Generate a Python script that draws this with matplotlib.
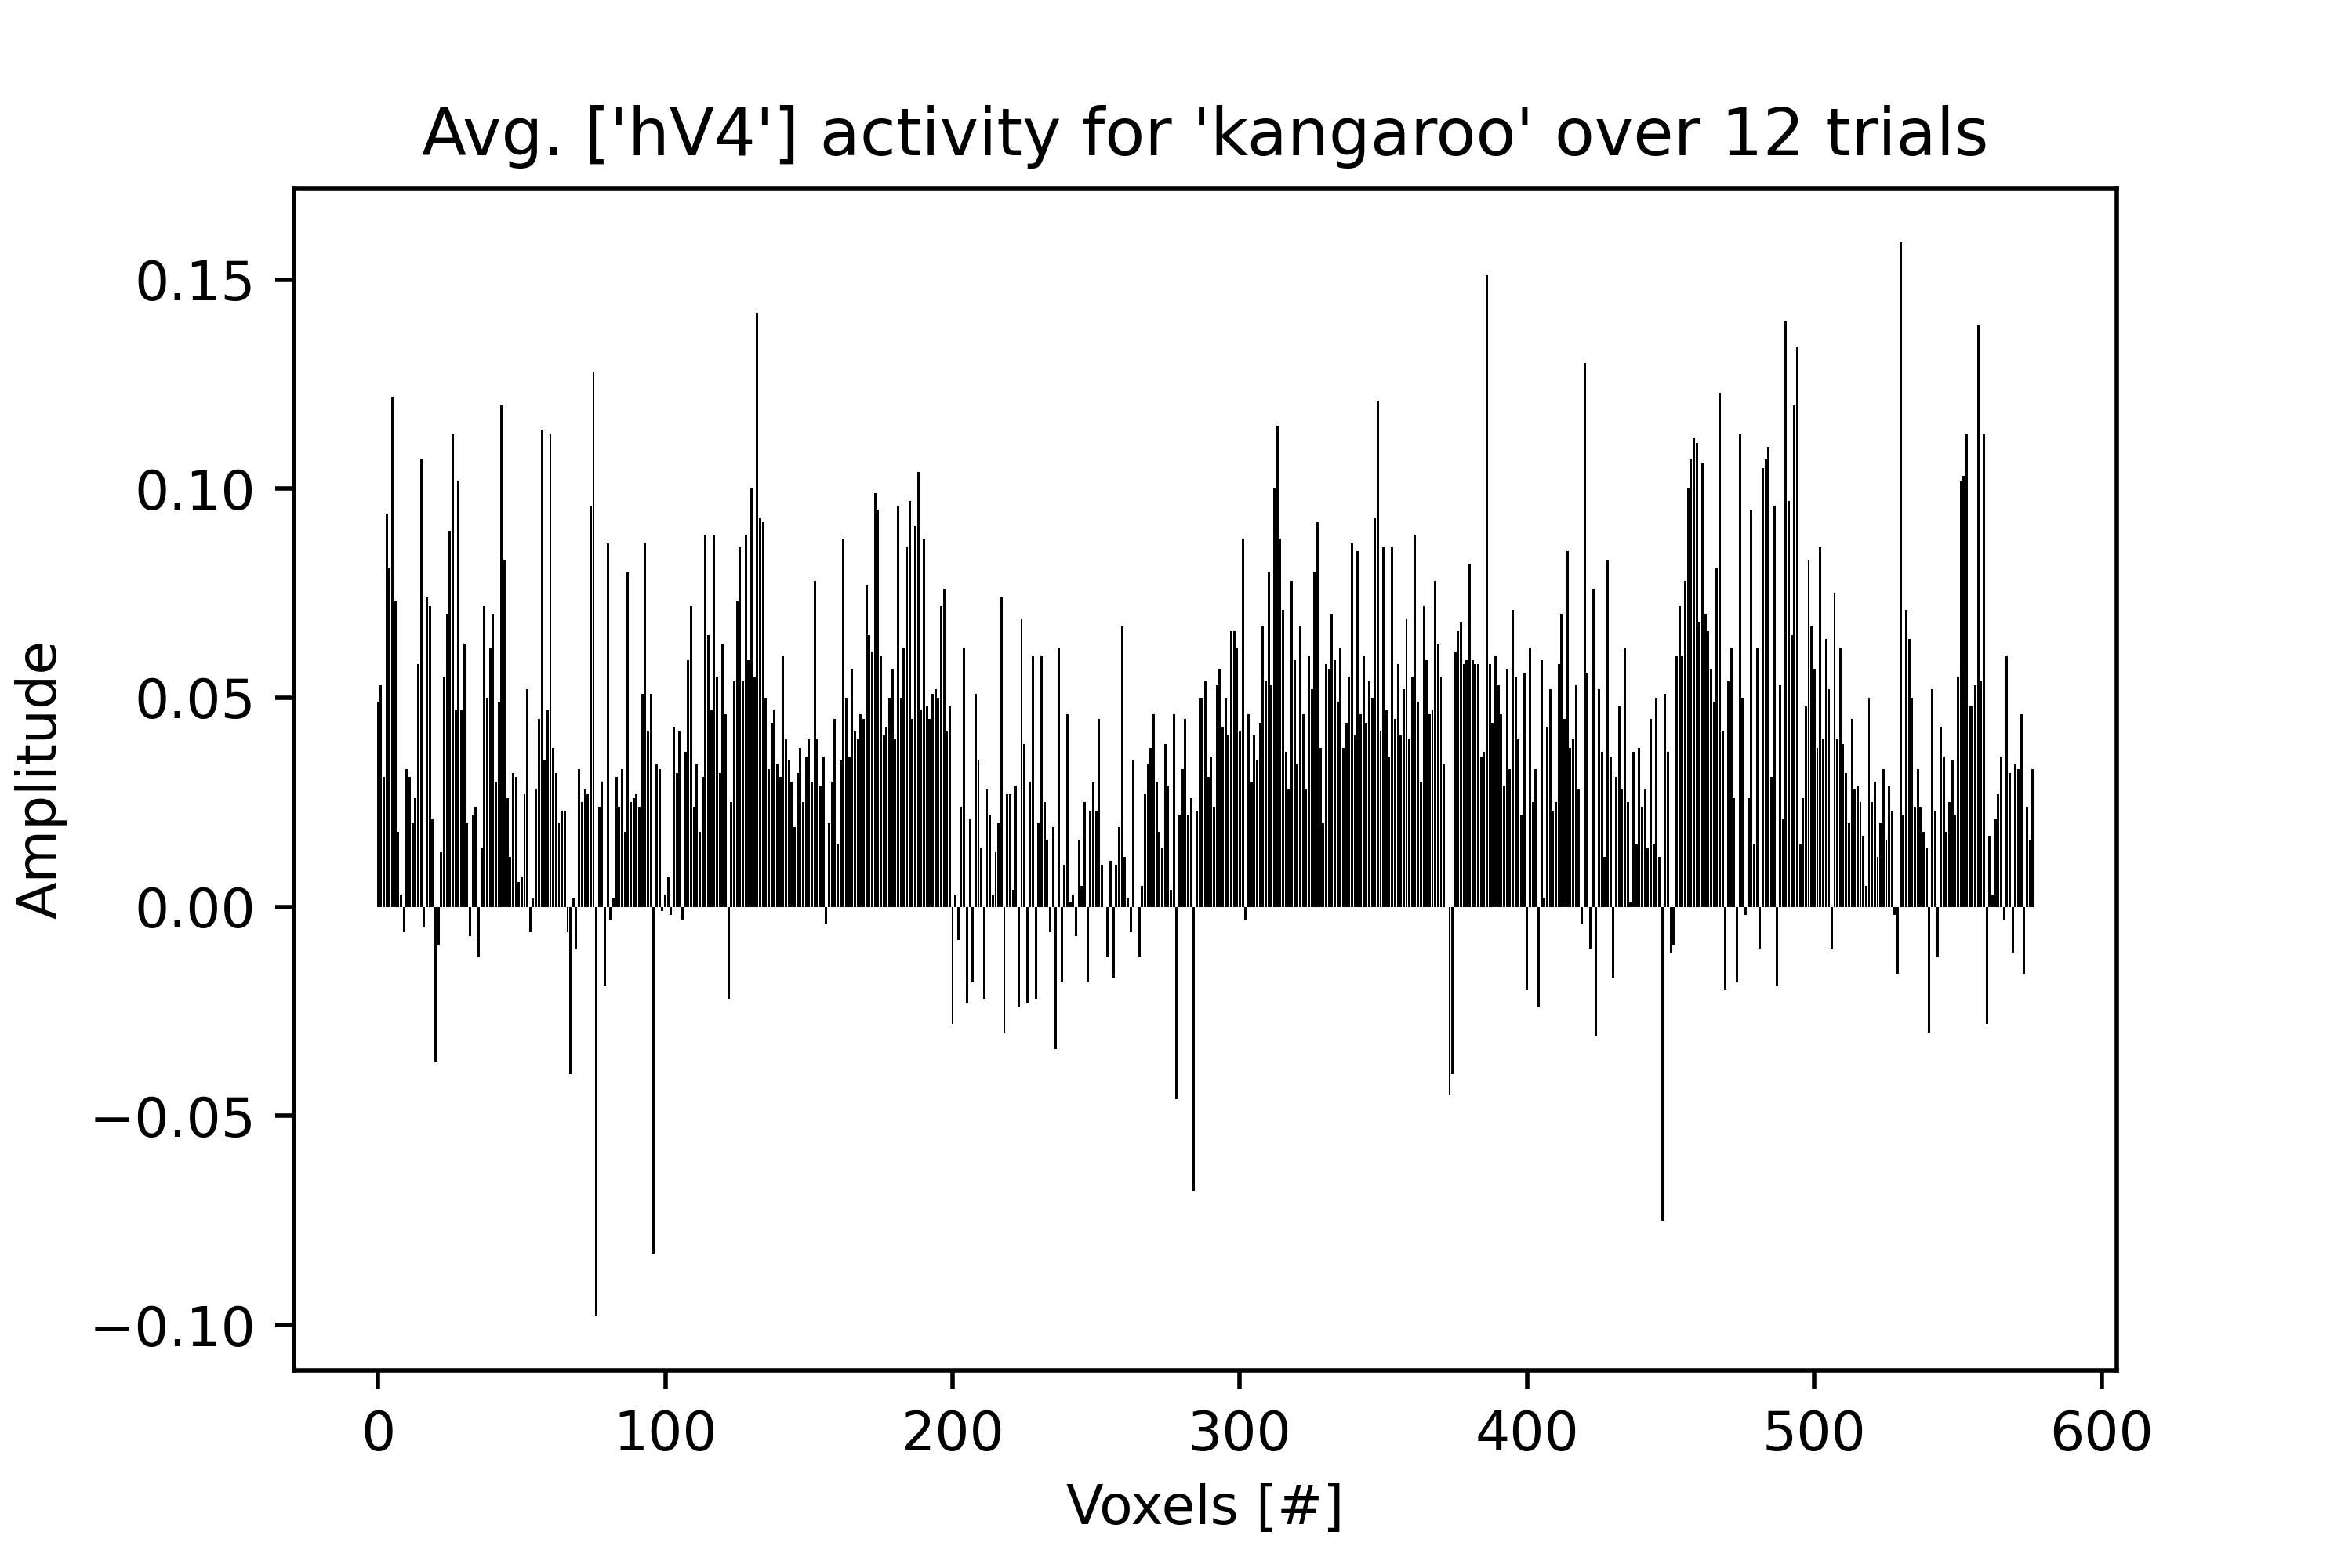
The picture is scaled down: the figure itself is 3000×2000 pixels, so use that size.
import numpy as np
import matplotlib
matplotlib.use("Agg")
import matplotlib.pyplot as plt

# voxel amplitudes in blocks of 100
amp_000 = [0.049, 0.053, 0.031, 0.094, 0.081, 0.122, 0.073, 0.018, 0.003, -0.006,
           0.033, 0.031, 0.020, 0.026, 0.058, 0.107, -0.005, 0.074, 0.072, 0.021,
           -0.037, -0.009, 0.013, 0.055, 0.070, 0.090, 0.113, 0.047, 0.102, 0.047,
           0.063, 0.020, -0.007, 0.022, 0.024, -0.012, 0.014, 0.072, 0.050, 0.062,
           0.070, 0.030, 0.049, 0.120, 0.083, 0.026, 0.012, 0.032, 0.031, 0.006,
           0.007, 0.027, 0.052, -0.006, 0.002, 0.028, 0.045, 0.114, 0.035, 0.047,
           0.113, 0.038, 0.032, 0.020, 0.023, 0.023, -0.006, -0.040, 0.002, -0.010,
           0.033, 0.025, 0.028, 0.027, 0.096, 0.128, -0.098, 0.024, 0.030, -0.019,
           0.087, -0.003, 0.002, 0.031, 0.024, 0.033, 0.018, 0.080, 0.025, 0.026,
           0.027, 0.024, 0.051, 0.087, 0.042, 0.051, -0.083, 0.034, 0.033, -0.001]

amp_100 = [0.003, 0.007, -0.002, 0.043, 0.032, 0.042, -0.003, 0.037, 0.059, 0.072,
           0.024, 0.034, 0.018, 0.031, 0.089, 0.065, 0.047, 0.089, 0.055, 0.032,
           0.063, 0.046, -0.022, 0.025, 0.054, 0.073, 0.086, 0.054, 0.089, 0.059,
           0.100, 0.055, 0.142, 0.093, 0.092, 0.050, 0.033, 0.044, 0.047, 0.034,
           0.031, 0.060, 0.040, 0.035, 0.030, 0.019, 0.032, 0.038, 0.025, 0.036,
           0.040, 0.030, 0.078, 0.040, 0.029, 0.036, -0.004, 0.020, 0.030, 0.045,
           0.015, 0.035, 0.088, 0.050, 0.036, 0.057, 0.042, 0.040, 0.046, 0.045,
           0.077, 0.065, 0.061, 0.099, 0.095, 0.060, 0.041, 0.043, 0.050, 0.057,
           0.040, 0.096, 0.050, 0.062, 0.086, 0.097, 0.045, 0.091, 0.104, 0.047,
           0.088, 0.048, 0.045, 0.051, 0.052, 0.050, 0.072, 0.076, 0.042, 0.048]

amp_200 = [-0.028, 0.003, -0.008, 0.024, 0.062, -0.023, 0.021, -0.018, 0.051, 0.035,
           0.014, -0.022, 0.028, 0.022, 0.003, 0.013, 0.020, 0.074, -0.030, 0.027,
           0.027, 0.004, 0.029, -0.024, 0.069, 0.039, -0.023, 0.030, 0.060, -0.022,
           0.020, 0.060, 0.025, 0.016, -0.006, 0.019, -0.034, 0.062, -0.018, 0.010,
           0.046, 0.001, 0.003, -0.007, 0.016, 0.005, 0.025, -0.018, 0.023, 0.030,
           0.023, 0.045, 0.010, 0.000, -0.012, 0.011, -0.017, 0.010, 0.019, 0.067,
           0.012, 0.002, -0.006, 0.035, 0.000, -0.012, 0.005, 0.027, 0.034, 0.038,
           0.046, 0.030, 0.018, 0.014, 0.039, 0.029, 0.004, 0.046, -0.046, 0.022,
           0.033, 0.045, 0.022, 0.026, -0.068, 0.023, 0.050, 0.050, 0.054, 0.031,
           0.036, 0.024, 0.053, 0.057, 0.043, 0.050, 0.041, 0.066, 0.066, 0.062]

amp_300 = [0.042, 0.088, -0.003, 0.046, 0.030, 0.041, 0.035, 0.044, 0.067, 0.054,
           0.080, 0.053, 0.100, 0.115, 0.088, 0.071, 0.037, 0.028, 0.078, 0.059,
           0.034, 0.067, 0.046, 0.028, 0.060, 0.052, 0.080, 0.092, 0.038, 0.020,
           0.058, 0.057, 0.070, 0.059, 0.049, 0.062, 0.038, 0.044, 0.055, 0.087,
           0.041, 0.085, 0.046, 0.060, 0.044, 0.054, 0.050, 0.093, 0.121, 0.042,
           0.086, 0.047, 0.036, 0.086, 0.045, 0.058, 0.041, 0.052, 0.069, 0.040,
           0.055, 0.089, 0.049, 0.030, 0.072, 0.059, 0.046, 0.047, 0.078, 0.063,
           0.055, 0.034, 0.000, -0.045, -0.040, 0.061, 0.066, 0.068, 0.058, 0.059,
           0.082, 0.059, 0.058, 0.058, 0.036, 0.037, 0.151, 0.058, 0.044, 0.060,
           0.053, 0.046, 0.029, 0.057, 0.033, 0.071, 0.055, 0.040, 0.022, 0.056]

amp_400 = [-0.020, 0.062, 0.025, 0.033, -0.024, 0.059, 0.002, 0.043, 0.052, 0.023,
           0.025, 0.058, 0.070, 0.045, 0.085, 0.038, 0.040, 0.053, 0.028, -0.004,
           0.130, 0.056, -0.010, 0.076, -0.031, 0.052, 0.037, 0.012, 0.083, 0.036,
           -0.017, 0.031, 0.048, 0.028, 0.062, 0.025, 0.001, 0.037, 0.015, 0.038,
           0.024, 0.028, 0.014, 0.045, 0.015, 0.050, 0.012, -0.075, 0.051, 0.037,
           -0.011, -0.009, 0.060, 0.072, 0.060, 0.078, 0.100, 0.107, 0.112, 0.111,
           0.068, 0.106, 0.070, 0.066, 0.057, 0.049, 0.081, 0.123, 0.042, -0.020,
           0.054, 0.062, 0.026, -0.018, 0.113, 0.050, -0.002, 0.026, 0.095, 0.015,
           0.062, -0.010, 0.105, 0.107, 0.110, 0.031, 0.096, -0.019, 0.053, 0.021,
           0.140, 0.097, 0.065, 0.120, 0.134, 0.015, 0.026, 0.048, 0.083, 0.067]

amp_500 = [0.057, 0.038, 0.086, 0.040, 0.064, 0.052, -0.010, 0.075, 0.040, 0.062,
           0.039, 0.032, 0.020, 0.045, 0.028, 0.029, 0.025, 0.017, 0.005, 0.050,
           0.025, 0.030, 0.012, 0.020, 0.033, 0.016, 0.029, 0.023, -0.002, -0.016,
           0.159, 0.022, 0.071, 0.064, 0.050, 0.024, 0.033, 0.024, 0.018, 0.014,
           -0.030, 0.052, 0.023, -0.012, 0.043, 0.036, 0.018, 0.025, 0.035, 0.022,
           0.055, 0.102, 0.103, 0.113, 0.048, 0.048, 0.053, 0.139, 0.054, 0.113,
           -0.028, 0.017, 0.003, 0.021, 0.027, 0.036, -0.003, 0.060, 0.032, -0.011,
           0.034, 0.033, 0.046, -0.016, 0.024, 0.016, 0.033]

roi = ['hV4']
stim = 'kangaroo'
n_trials = 12

amplitude = np.array(amp_000 + amp_100 + amp_200 + amp_300 + amp_400 + amp_500)
voxels = np.arange(len(amplitude))

fig = plt.figure(figsize=(6, 4), dpi=500)
plt.subplots_adjust(left=0.125, right=0.9, bottom=0.126, top=0.88)
plt.bar(voxels, amplitude, color='black')
plt.title(f"Avg. {roi} activity for '{stim}' over {n_trials} trials")
plt.xlabel('Voxels [#]')
plt.ylabel('Amplitude')
plt.savefig('out.png', dpi=500)
